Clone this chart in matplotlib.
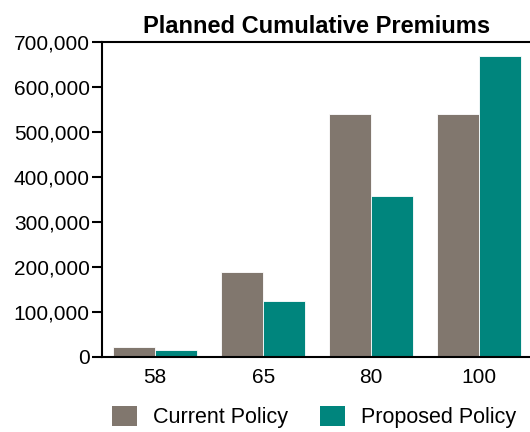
import matplotlib
matplotlib.use("Agg")
import matplotlib.pyplot as plt
from matplotlib.patches import Patch
from matplotlib.ticker import FuncFormatter
import numpy as np

plt.rcParams['font.family'] = ['Liberation Sans', 'DejaVu Sans']

ages = ["58", "65", "80", "100"]
current_policy = [22000, 188000, 540000, 540000]
proposed_policy = [15000, 124000, 357000, 669000]
yticks = [0, 100000, 200000, 300000, 400000, 500000, 600000, 700000]

grey = "#81776E"
teal = "#00857D"

fig = plt.figure(figsize=(5.30, 4.32), dpi=100)
ax = fig.add_axes([0.193, 0.174, 0.807, 0.7295])

x = np.arange(len(ages))
w = 0.39
ax.bar(x - w / 2, current_policy, width=w, color=grey, edgecolor="white", linewidth=0.6)
ax.bar(x + w / 2, proposed_policy, width=w, color=teal, edgecolor="white", linewidth=0.6)

ax.set_xlim(-0.49, 3.47)
ax.set_ylim(0, 700000)
ax.set_yticks(yticks)
ax.yaxis.set_major_formatter(FuncFormatter(lambda v, p: f"{int(v):,}"))
ax.set_xticks(x)
ax.set_xticklabels(ages)

ax.tick_params(axis="y", length=7, width=1.5, labelsize=15, pad=2, colors="black")
ax.tick_params(axis="x", length=0, labelsize=15, pad=8)

for s in ["left", "top", "bottom"]:
    ax.spines[s].set_linewidth(1.5)
ax.spines["right"].set_visible(False)

ax.set_title("Planned Cumulative Premiums", fontsize=17, fontweight="bold", pad=6)

handles = [Patch(facecolor=grey, label="Current Policy"),
           Patch(facecolor=teal, label="Proposed Policy")]
fig.legend(handles=handles, loc="center", bbox_to_anchor=(0.593, 0.034), ncol=2,
           frameon=False, fontsize=15.5, handlelength=1.15, handleheight=1.05,
           handletextpad=0.75, columnspacing=1.5)

fig.savefig("out.png", dpi=100)
